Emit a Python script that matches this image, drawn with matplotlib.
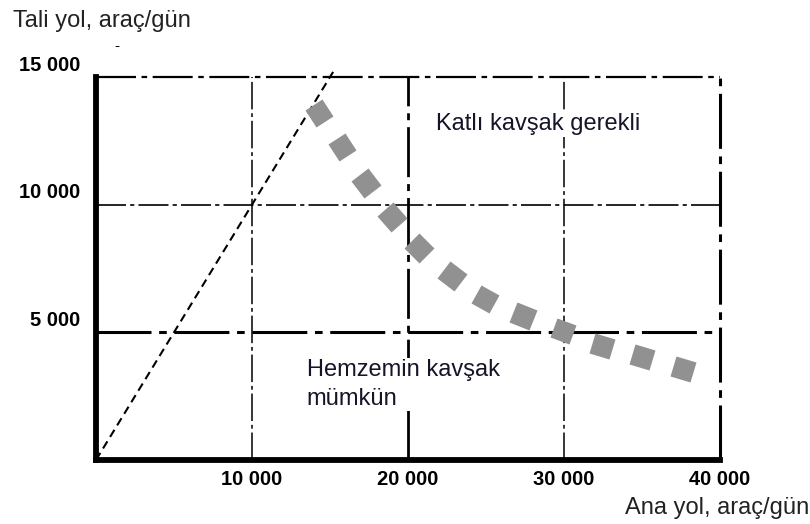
import numpy as np
import matplotlib
matplotlib.use("Agg")
import matplotlib.pyplot as plt
from matplotlib.markers import MarkerStyle
from matplotlib.transforms import Affine2D

plt.rcParams["font.family"] = ["Liberation Sans", "DejaVu Sans"]

# boundary curve (Ana yol vs Tali yol, araç/gün)
ana_yol = [14300, 15800, 17300, 19000, 20700, 22800, 24950, 27400, 29950, 32450, 35000, 37600]
tali_yol = [13600, 12250, 10850, 9500, 8300, 7200, 6300, 5650, 5050, 4450, 4050, 3550]

# y = x reference line
diag_x = [0, 15200]
diag_y = [0, 15200]

x_ticks = [10000, 20000, 30000, 40000]
y_ticks = [5000, 10000, 15000]


def fmt(v):
    return f"{v:,}".replace(",", " ")


fig = plt.figure(figsize=(8.1, 5.24), dpi=100)
ax = fig.add_axes([0.1185, 0.1221, 0.7704, 0.7309])
ax.set_xlim(0, 40000)
ax.set_ylim(0, 15000)

# grid-like frame lines (dash-dot)
dashdot = (0, (18, 2.5, 2.5, 2.5))
ax.axvline(10000, color="black", lw=1.1, ls=dashdot)
ax.axvline(20000, color="black", lw=2.0, ls=dashdot)
ax.axvline(30000, color="black", lw=1.1, ls=dashdot)
ax.axvline(40000, color="black", lw=2.2, ls=dashdot, clip_on=False)
ax.axhline(5000, color="black", lw=2.2, ls=dashdot)
ax.axhline(10000, color="black", lw=1.2, ls=dashdot)
ax.axhline(15000, color="black", lw=1.6, ls=dashdot, clip_on=False)

for side in ("top", "right"):
    ax.spines[side].set_visible(False)
for side in ("left", "bottom"):
    ax.spines[side].set_linewidth(4.2)
    ax.spines[side].set_capstyle("projecting")

# dashed diagonal
ax.plot(diag_x, diag_y, color="black", lw=1.5, ls=(0, (4, 2.5)), clip_on=False)

# gray squares, each turned to follow the curve
pts = ax.transData.transform(np.column_stack([ana_yol, tali_yol]))
dx = np.gradient(pts[:, 0])
dy = np.gradient(pts[:, 1])
angles = np.degrees(np.arctan2(dy, dx))
for xv, yv, a in zip(ana_yol, tali_yol, angles):
    m = MarkerStyle("s", transform=Affine2D().rotate_deg(a))
    ax.plot([xv], [yv], marker=m, ms=15, color="#919191", mec="none",
            ls="none", zorder=3)

# ticks
ax.set_xticks(x_ticks, [fmt(v) for v in x_ticks])
ax.set_yticks(y_ticks, [fmt(v) for v in y_ticks])
ax.tick_params(length=0, labelsize=14.5)
ax.tick_params(axis="x", pad=7)
ax.tick_params(axis="y", pad=11)
for lab in ax.get_xticklabels() + ax.get_yticklabels():
    lab.set_fontweight("bold")
shift = matplotlib.transforms.ScaledTranslation(0, 10 / 72, fig.dpi_scale_trans)
for lab in ax.get_yticklabels():
    lab.set_transform(lab.get_transform() + shift)

# region labels (white backing hides the grid line behind, as in the source)
backing = dict(facecolor="white", edgecolor="none", pad=1)
ax.text(21800, 12920, "Katlı kavşak gerekli", fontsize=17, color="#15152a",
        va="baseline", ha="left", bbox=backing, zorder=4)
ax.text(13500, 3950, "Hemzemin kavşak\nmümkün", fontsize=17, color="#15152a",
        va="top", ha="left", linespacing=1.4, bbox=backing, zorder=4)

# axis titles
fig.text(13 / 810, 1 - 27 / 524, "Tali yol, araç/gün", fontsize=17,
         va="baseline", ha="left", color="#222222")
fig.text(809 / 810, 1 - 514 / 524, "Ana yol, araç/gün", fontsize=17,
         va="baseline", ha="right", color="#222222")
fig.text(117 / 810, 1 - 50 / 524, "-", fontsize=11, ha="center", va="baseline")

fig.savefig("out.png", dpi=100)
